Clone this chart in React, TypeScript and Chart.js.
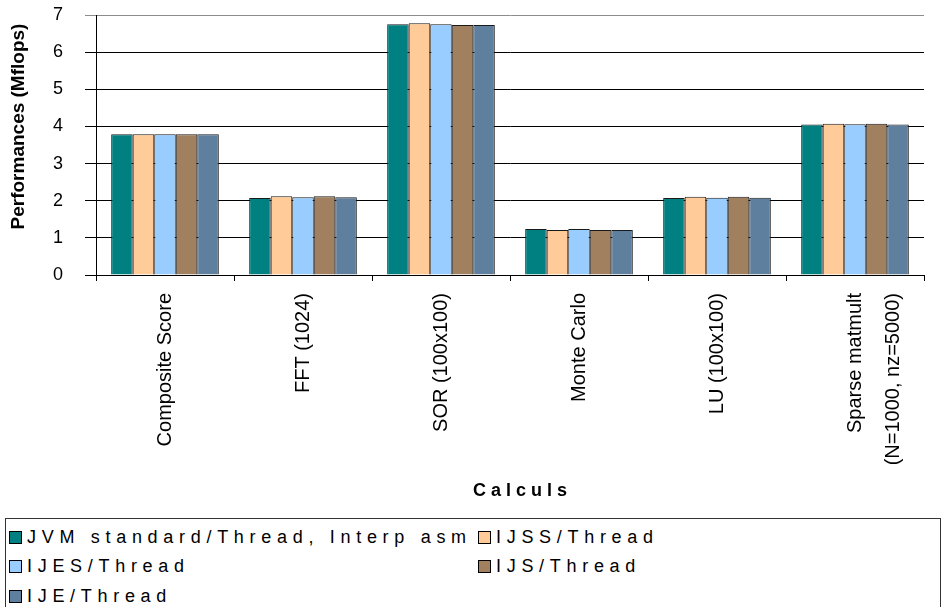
import React, { useEffect, useRef } from "react";
import { Chart, registerables } from "chart.js";

Chart.register(...registerables);

const categories: (string | string[])[] = [
  "Composite Score",
  "FFT (1024)",
  "SOR (100x100)",
  "Monte Carlo",
  "LU (100x100)",
  ["Sparse matmult", "(N=1000, nz=5000)"],
];

const seriesNames = [
  "JVM standard/Thread, Interp asm",
  "IJSS/Thread",
  "IJES/Thread",
  "IJS/Thread",
  "IJE/Thread",
];

const jvmStandard = [3.79, 2.07, 6.75, 1.24, 2.07, 4.05];
const ijss = [3.79, 2.12, 6.78, 1.21, 2.11, 4.07];
const ijes = [3.79, 2.09, 6.75, 1.24, 2.08, 4.06];
const ijs = [3.79, 2.12, 6.73, 1.21, 2.11, 4.07];
const ije = [3.79, 2.09, 6.73, 1.21, 2.08, 4.05];

const seriesValues = [jvmStandard, ijss, ijes, ijs, ije];
const seriesColors = ["#008080", "#FFCC99", "#99CCFF", "#A0805F", "#5F7F9F"];

const yTicks = [0, 1, 2, 3, 4, 5, 6, 7];

export default function App() {
  const canvasRef = useRef<HTMLCanvasElement | null>(null);

  useEffect(() => {
    document.body.style.margin = "0";
    const canvas = canvasRef.current;
    if (!canvas) return;
    const chart = new Chart(canvas, {
      type: "bar",
      data: {
        labels: categories,
        datasets: seriesNames.map((name, i) => ({
          label: name,
          data: seriesValues[i],
          backgroundColor: seriesColors[i],
          borderColor: "#1a1a1a",
          borderWidth: 1,
          categoryPercentage: 0.78,
          barPercentage: 1,
        })),
      },
      options: {
        animation: false,
        responsive: false,
        maintainAspectRatio: false,
        layout: { padding: { top: 0, right: 0, bottom: 4, left: 0 } },
        plugins: {
          legend: { display: false },
          tooltip: { enabled: false },
        },
        scales: {
          x: {
            grid: {
              display: true,
              drawOnChartArea: false,
              drawTicks: true,
              tickLength: 6,
              color: "#000",
              offset: true,
            },
            border: { display: true, color: "#000", width: 1 },
            ticks: {
              minRotation: 90,
              maxRotation: 90,
              autoSkip: false,
              padding: 12,
              color: "#000",
              font: { family: "Arial, 'Liberation Sans'", size: 20, lineHeight: 1.9 },
            },
            title: {
              display: true,
              text: "    C a l c u l s",
              color: "#000",
              font: { family: "Arial, 'Liberation Sans'", size: 18, weight: "bold" },
              padding: { top: 4, bottom: 4 },
            },
            afterFit: (scale: any) => {
              scale.height = 231;
            },
          },
          y: {
            min: 0,
            max: 7,
            afterBuildTicks: (scale: any) => {
              scale.ticks = yTicks.map((v) => ({ value: v }));
            },
            grid: {
              color: (ctx: any) => (ctx.tick && ctx.tick.value === 7 ? "#8c8c8c" : "#000"),
              lineWidth: 1,
              tickLength: 11,
              drawTicks: true,
            },
            border: { display: true, color: "#000", width: 1 },
            ticks: {
              padding: 22,
              color: "#000",
              font: { family: "Arial, 'Liberation Sans'", size: 18 },
            },
            title: {
              display: true,
              text: "       Performances (Mflops)",
              color: "#000",
              font: { family: "Arial, 'Liberation Sans'", size: 19, weight: "bold" },
              padding: { top: 7, bottom: 0 },
            },
            afterFit: (scale: any) => {
              scale.width = 96;
              scale.paddingTop = 15;
              scale.paddingBottom = 0;
            },
          },
        },
      },
    });
    return () => chart.destroy();
  }, []);

  const legendFont: React.CSSProperties = {
    fontFamily: "Arial, 'Liberation Sans', sans-serif",
    fontSize: 18,
    letterSpacing: "5.7px",
    color: "#000",
    whiteSpace: "nowrap",
    lineHeight: "20px",
  };

  const positions = [
    { left: 9, top: 537 },
    { left: 478, top: 537 },
    { left: 9, top: 566 },
    { left: 478, top: 566 },
    { left: 9, top: 596 },
  ];

  return (
    <div style={{ position: "absolute", left: 0, top: 0, width: 943, height: 607, overflow: "hidden", background: "#fff" }}>
      <canvas ref={canvasRef} width={943} height={510} style={{ position: "absolute", left: 0, top: 0, width: 943, height: 510 }} />
      <div
        style={{
          position: "absolute",
          left: 5,
          top: 518,
          width: 936,
          height: 120,
          border: "1px solid #333",
          boxSizing: "border-box",
        }}
      />
      {seriesNames.map((name, i) => (
        <div
          key={name}
          style={{
            position: "absolute",
            left: positions[i].left,
            top: positions[i].top - 10,
            height: 20,
            display: "flex",
            alignItems: "center",
            ...legendFont,
          }}
        >
          <span
            style={{
              display: "inline-block",
              width: 11,
              height: 11,
              background: seriesColors[i],
              border: "1px solid #000",
              marginRight: 5,
              letterSpacing: 0,
            }}
          />
          <span>{name}</span>
        </div>
      ))}
    </div>
  );
}
